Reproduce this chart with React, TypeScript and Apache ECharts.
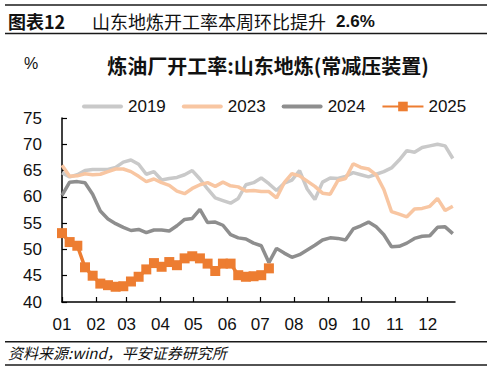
import React, { useEffect, useRef } from "react";
import * as echarts from "echarts";

// Weekly values (week index 0..51 of the year)
const series2019 = [
  64.6, 63.8, 64.2, 65.0, 65.2, 65.2, 65.2, 65.6, 66.6, 67.0, 66.2, 64.3, 64.8,
  63.2, 63.5, 63.7, 64.2, 65.0, 63.4, 61.5, 59.8, 59.3, 58.8, 59.7, 62.3, 62.7,
  63.6, 62.5, 61.2, 62.6, 63.2, 65.0, 61.5, 59.5, 62.8, 63.6, 63.5, 63.9, 64.6,
  64.2, 63.8, 64.3, 64.8, 65.5, 67.0, 68.8, 68.5, 69.4, 69.7, 70.0, 69.7, 67.3,
];
const series2023 = [
  66.0, 63.9, 64.0, 64.4, 64.2, 64.3, 64.8, 65.3, 65.3, 64.8, 63.9, 62.9, 63.4,
  62.7, 62.2, 61.1, 60.6, 61.6, 62.3, 62.7, 62.0, 62.8, 62.1, 61.9, 61.1, 61.2,
  61.0, 61.0, 59.8, 62.7, 64.4, 64.0, 63.0, 62.0, 60.7, 60.5, 63.1, 63.5, 66.3,
  65.6, 65.3, 64.2, 61.4, 57.2, 56.7, 56.2, 57.7, 57.8, 58.2, 59.7, 57.4, 58.2,
];
const series2024 = [
  60.3, 62.8, 62.9, 62.7, 60.5, 57.3, 55.8, 54.9, 54.2, 53.6, 53.8, 53.2, 53.7,
  53.7, 53.5, 54.5, 55.7, 55.9, 57.6, 55.1, 55.2, 54.6, 52.8, 52.2, 52.0, 51.2,
  50.7, 47.5, 50.2, 49.3, 48.5, 49.0, 49.9, 50.8, 51.8, 52.2, 52.1, 51.8, 53.9,
  54.5, 55.2, 54.3, 52.8, 50.5, 50.6, 51.2, 52.1, 52.5, 52.6, 54.2, 54.3, 53.0,
];
const series2025 = [
  53.1, 51.4, 50.7, 46.6, 45.0, 43.5, 43.2, 42.9, 43.0, 43.9, 44.8, 46.2, 47.4,
  46.7, 47.6, 47.0, 48.3, 48.7, 48.3, 47.3, 45.9, 47.3, 47.3, 45.1, 44.8, 44.9,
  45.1, 46.4,
];
const seriesNames = ["2019", "2023", "2024", "2025"];

// X axis: day-of-year scale, ticks/labels at the start of each month
const monthLabels = ["01", "02", "03", "04", "05", "06", "07", "08", "09", "10", "11", "12"];
const monthStartDays = [0, 31, 59, 90, 120, 151, 181, 212, 243, 273, 304, 334];
const yTicks = [40, 45, 50, 55, 60, 65, 70, 75];

const toPoints = (vals: number[]) => vals.map((v, i) => [i * 7, v]);

const FONT = "'Liberation Sans', Arial, 'Noto Sans CJK SC', sans-serif";
const CJK = "'Noto Sans CJK SC', 'Liberation Sans', sans-serif";
const LINE_ICON = "path://M2,0 L39,0 A2,2 0 0 1 39,4 L2,4 A2,2 0 0 1 2,0 Z";

export default function App() {
  const ref = useRef<HTMLDivElement>(null);
  useEffect(() => {
    if (!ref.current) return;
    const chart = echarts.init(ref.current, null, { renderer: "svg" });
    const rule = (y: number) => ({
      type: "line",
      shape: { x1: 5, y1: y, x2: 487, y2: y },
      style: { stroke: "#1a1a1a", lineWidth: 1.5 },
      silent: true,
    });
    chart.setOption({
      animation: false,
      backgroundColor: "#ffffff",
      grid: { left: 62, right: 38, top: 118, bottom: 69, containLabel: false, outerBoundsMode: "none" },
      legend: {
        left: 77,
        top: 93,
        itemWidth: 41,
        itemHeight: 12,
        itemGap: 16,
        data: [
          { name: seriesNames[0], icon: LINE_ICON },
          { name: seriesNames[1], icon: LINE_ICON },
          { name: seriesNames[2], icon: LINE_ICON },
          { name: seriesNames[3] },
        ],
        textStyle: { fontSize: 17, color: "#111", fontFamily: FONT },
      },
      xAxis: {
        type: "value",
        min: 0,
        max: 359,
        axisLine: { show: true, lineStyle: { color: "#000", width: 1.5 } },
        axisTick: { show: true, inside: true, length: 5, customValues: monthStartDays, lineStyle: { color: "#000", width: 1.2 } },
        axisLabel: {
          customValues: monthStartDays,
          formatter: (v: number) => monthLabels[monthStartDays.indexOf(v)] ?? "",
          fontSize: 17,
          color: "#111",
          fontFamily: FONT,
          margin: 14,
        },
        splitLine: { show: false },
      },
      yAxis: {
        type: "value",
        min: yTicks[0],
        max: yTicks[yTicks.length - 1],
        interval: 5,
        axisLine: { show: true, lineStyle: { color: "#000", width: 1.5 } },
        axisTick: { show: true, inside: true, length: 5, lineStyle: { color: "#000", width: 1.2 } },
        axisLabel: { fontSize: 17, color: "#111", fontFamily: FONT, margin: 20 },
        splitLine: { show: false },
      },
      series: [
        {
          name: seriesNames[0],
          type: "line",
          data: toPoints(series2019),
          symbol: "none",
          color: "#c9c9c9",
          lineStyle: { width: 3.5, color: "#c9c9c9" },
          z: 1,
        },
        {
          name: seriesNames[1],
          type: "line",
          data: toPoints(series2023),
          symbol: "none",
          color: "#f8c6a2",
          lineStyle: { width: 3.5, color: "#f8c6a2" },
          z: 2,
        },
        {
          name: seriesNames[2],
          type: "line",
          data: toPoints(series2024),
          symbol: "none",
          color: "#8e8e8e",
          lineStyle: { width: 3.5, color: "#8e8e8e" },
          z: 3,
        },
        {
          name: seriesNames[3],
          type: "line",
          data: toPoints(series2025),
          symbol: "rect",
          symbolSize: 10,
          color: "#ed7d31",
          itemStyle: { color: "#ed7d31" },
          lineStyle: { width: 3.5, color: "#ed7d31" },
          z: 4,
        },
      ],
      graphic: [
        rule(5),
        rule(33.5),
        {
          type: "text",
          left: 8,
          top: 12,
          style: { text: "图表12", fontSize: 18, fontWeight: "bold", fill: "#111", fontFamily: CJK },
        },
        {
          type: "text",
          left: 92,
          top: 12,
          style: { text: "山东地炼开工率本周环比提升", fontSize: 18, fill: "#111", fontFamily: CJK },
        },
        {
          type: "text",
          left: 336,
          top: 13,
          style: { text: "2.6%", fontSize: 17, fontWeight: "bold", fill: "#111", fontFamily: FONT },
        },
        {
          type: "text",
          left: 24,
          top: 55,
          style: { text: "%", fontSize: 16, fill: "#111", fontFamily: FONT },
        },
        {
          type: "text",
          x: 268,
          y: 65,
          style: {
            text: "炼油厂开工率:山东地炼(常减压装置)",
            fontSize: 20,
            fontWeight: "bold",
            fill: "#111",
            fontFamily: CJK,
            align: "center",
            verticalAlign: "middle",
          },
        },
        rule(341.7),
        rule(365),
        {
          type: "text",
          left: 8,
          top: 345,
          style: {
            text: "资料来源:wind，平安证券研究所",
            fontSize: 15,
            fontStyle: "italic",
            fill: "#111",
            fontFamily: CJK,
          },
        },
      ],
    });
    return () => chart.dispose();
  }, []);
  return (
    <div
      ref={ref}
      style={{ position: "fixed", left: 0, top: 0, width: 493, height: 371, background: "#fff" }}
    />
  );
}
